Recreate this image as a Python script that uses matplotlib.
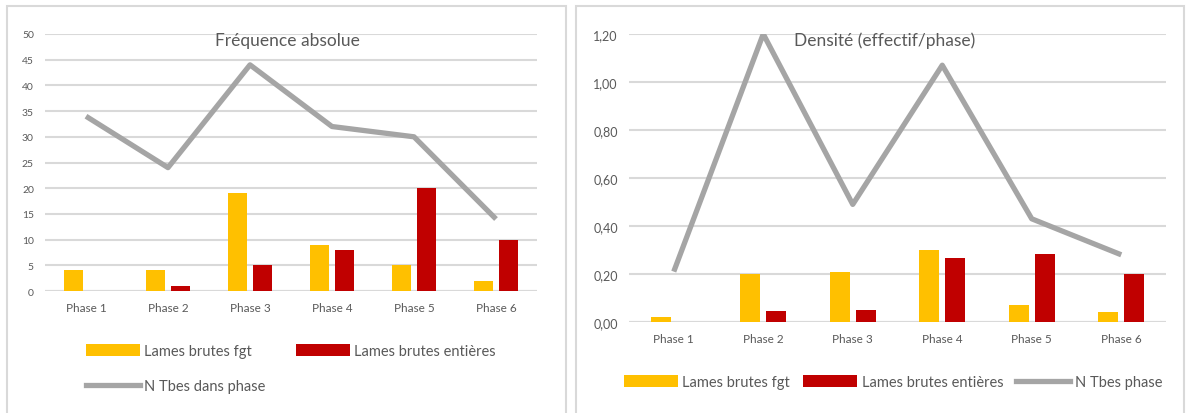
import matplotlib
matplotlib.use("Agg")
import matplotlib.pyplot as plt
import numpy as np
from matplotlib.patches import Rectangle
from matplotlib.lines import Line2D
from matplotlib.patches import Patch

phases = ["Phase 1", "Phase 2", "Phase 3", "Phase 4", "Phase 5", "Phase 6"]

# Fréquence absolue
freq_fgt = [4, 4, 19, 9, 5, 2]
freq_entieres = [0, 1, 5, 8, 20, 10]
freq_tbes = [34, 24, 44, 32, 30, 14]

# Densité (effectif/phase)
dens_fgt = [0.02, 0.20, 0.21, 0.30, 0.07, 0.04]
dens_entieres = [0.0, 0.045, 0.05, 0.265, 0.285, 0.20]
dens_tbes = [0.21, 1.20, 0.49, 1.07, 0.43, 0.28]

YELLOW = "#FFC000"
RED = "#C00000"
GREY = "#A5A5A5"
TXT = "#595959"
GRID = "#D9D9D9"

plt.rcParams["font.family"] = ["Lato", "DejaVu Sans"]

W, H = 1190, 414
fig = plt.figure(figsize=(W / 100, H / 100), dpi=100)

def px(x, y):
    return x / W, 1 - y / H

# panel frames
for x0, x1 in [(7, 566), (576, 1184)]:
    fig.patches.append(Rectangle(px(x0, 416), (x1 - x0) / W, (416 - 7) / H,
                                 transform=fig.transFigure, fill=False,
                                 edgecolor="#D9D9D9", linewidth=1.5))


def panel(rect, fgt, ent, tbes, ymax, step, fmt, title, title_x, bw, off, ytick_fs):
    ax = fig.add_axes(rect)
    x = np.arange(len(phases))
    ax.bar(x - off, fgt, width=bw, color=YELLOW, zorder=3)
    ax.bar(x + off, ent, width=bw, color=RED, zorder=3)
    ax.plot(x, tbes, color=GREY, linewidth=3.8, zorder=4, solid_capstyle="butt")
    ax.set_xlim(-0.5, len(phases) - 0.5)
    ax.set_ylim(0, ymax)
    ticks = np.arange(0, ymax + step / 2, step)
    ax.set_yticks(ticks)
    ax.set_yticklabels([fmt(t) for t in ticks], color=TXT, fontsize=ytick_fs)
    ax.set_xticks(x)
    ax.set_xticklabels(phases, color=TXT, fontsize=8.5)
    ax.tick_params(length=0, axis="y", pad=8)
    ax.tick_params(length=0, axis="x", pad=8)
    ax.yaxis.grid(True, color=GRID, linewidth=1.5, zorder=0)
    ax.set_axisbelow(True)
    for s in ax.spines.values():
        s.set_visible(False)
    ax.axhline(0, color=GRID, linewidth=1.5, zorder=2)
    fig.text(title_x / W, 1 - 41 / H, title, ha="center", va="center",
             color=TXT, fontsize=12.5)
    return ax


panel([45 / W, 1 - 292 / H, 492 / W, 257 / H], freq_fgt, freq_entieres, freq_tbes,
      50, 5, lambda t: f"{int(t)}", "Fréquence absolue", 287, 0.23, 0.15, 7.5)
panel([629 / W, 1 - 323 / H, 537 / W, 288 / H], dens_fgt, dens_entieres, dens_tbes,
      1.2, 0.2, lambda t: f"{t:.2f}".replace(".", ","), "Densité (effectif/phase)", 885,
      0.22, 0.145, 9)

h_fgt = Patch(facecolor=YELLOW)
h_ent = Patch(facecolor=RED)
h_grey = Line2D([], [], color=GREY, linewidth=3.8)

leg_kw = dict(frameon=False, fontsize=10.5, labelcolor=TXT, handlelength=3.7,
              handleheight=0.9, handletextpad=0.3, borderaxespad=0, borderpad=0)
l1 = fig.legend([h_fgt, h_ent], ["Lames brutes fgt", "Lames brutes entières"],
                loc="center left", bbox_to_anchor=px(86, 352), ncol=2,
                columnspacing=3.0, **leg_kw)
l2 = fig.legend([h_grey], ["N Tbes dans phase"], loc="center left",
                bbox_to_anchor=px(86, 387), **leg_kw)
l3 = fig.legend([h_fgt, h_ent, h_grey],
                ["Lames brutes fgt", "Lames brutes entières", "N Tbes phase"],
                loc="center left", bbox_to_anchor=px(624, 383), ncol=3,
                columnspacing=0.9, **leg_kw)

fig.savefig("out.png", dpi=100)
